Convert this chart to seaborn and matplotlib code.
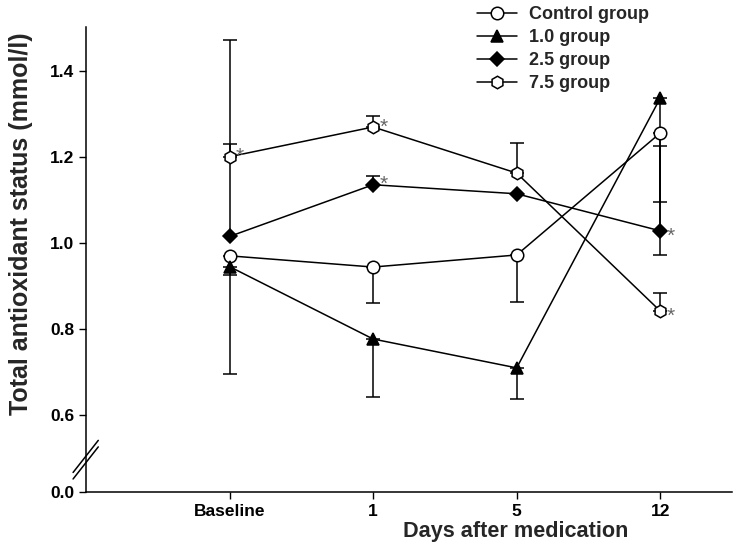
import numpy as np
import matplotlib.pyplot as plt
import seaborn as sns

# -------------------------- 1. 数据 --------------------------
days = ["Baseline", "1", "5", "12"]
groups = ["Control group", "1.0 group", "2.5 group", "7.5 group"]

control = [0.970, 0.944, 0.972, 1.255]
group_1_0 = [0.945, 0.777, 0.710, 1.336]
group_2_5 = [1.015, 1.135, 1.114, 1.028]
group_7_5 = [1.200, 1.269, 1.162, 0.842]

# 误差线（下，上）
control_err_lo = [0.044, 0.083, 0.109, 0.283]
control_err_hi = [0.0, 0.0, 0.0, 0.0]
group_1_0_err_lo = [0.250, 0.134, 0.072, 0.241]
group_1_0_err_hi = [0.0, 0.0, 0.0, 0.0]
group_2_5_err_lo = [0.0, 0.0, 0.0, 0.0]
group_2_5_err_hi = [0.455, 0.020, 0.0, 0.197]
group_7_5_err_lo = [0.0, 0.0, 0.0, 0.0]
group_7_5_err_hi = [0.030, 0.026, 0.070, 0.042]

# 显著性标记 *
control_sig = [False, False, False, False]
group_1_0_sig = [False, False, False, False]
group_2_5_sig = [False, True, False, True]
group_7_5_sig = [True, True, False, True]

# -------------------------- 2. 样式 --------------------------
sns.set_style("ticks")
plt.rcParams['font.family'] = ['Liberation Sans', 'DejaVu Sans']
plt.rcParams['font.weight'] = 'bold'
plt.rcParams['axes.labelweight'] = 'bold'

series = [control, group_1_0, group_2_5, group_7_5]
err_lo = [control_err_lo, group_1_0_err_lo, group_2_5_err_lo, group_7_5_err_lo]
err_hi = [control_err_hi, group_1_0_err_hi, group_2_5_err_hi, group_7_5_err_hi]
sig = [control_sig, group_1_0_sig, group_2_5_sig, group_7_5_sig]
markers = ['o', '^', 'D', 'h']
faces = ['white', 'black', 'black', 'white']
msizes = [9, 9, 7.5, 9]

x = np.arange(len(days))
y_zero = 0.422  # 断轴后 0.0 所在位置

fig = plt.figure(figsize=(7.36, 5.57), dpi=100)
ax = fig.add_axes([86 / 736, 1 - 492 / 557, 646 / 736, 465 / 557])

# -------------------------- 3. 绘图 --------------------------
handles = []
for i, name in enumerate(groups):
    ax.errorbar(x, series[i], yerr=[err_lo[i], err_hi[i]], fmt='none', ecolor='black',
                elinewidth=1.1, capsize=4.8, capthick=1.1, zorder=2)
    sns.lineplot(x=x, y=series[i], ax=ax, color='black', linewidth=1.1, marker=markers[i],
                 markersize=msizes[i], markerfacecolor=faces[i], markeredgecolor='black',
                 markeredgewidth=1.1, label=name, zorder=3, legend=False)
    handles.append(ax.lines[-1])
    for j in range(len(days)):
        if sig[i][j]:
            dy = -4 if j == 3 else 0
            ax.annotate('*', (x[j], series[i][j]), xytext=(4.5, dy), textcoords='offset points',
                        ha='left', va='center', fontsize=15, color='#666666', fontweight='normal')

ax.set_xlim(-1, 3.5)
ax.set_ylim(y_zero, 1.501)
ax.set_xticks(x)
ax.set_xticklabels(days)
ax.set_yticks([y_zero, 0.6, 0.8, 1.0, 1.2, 1.4])
ax.set_yticklabels(['0.0', '0.6', '0.8', '1.0', '1.2', '1.4'])
ax.tick_params(axis='both', direction='out', length=5, width=1, labelsize=12.5, colors='black')
for s in ['left', 'bottom']:
    ax.spines[s].set_linewidth(1.1)
    ax.spines[s].set_color('black')
sns.despine(ax=ax)

ax.set_xlabel('Days after medication', fontsize=15.6)
ax.set_ylabel('Total antioxidant status (mmol/l)', fontsize=18)
ax.xaxis.set_label_coords(0.665, -0.086)
ax.yaxis.set_label_coords(-0.100, 0.576)
ax.xaxis.label.set_va('center')
ax.yaxis.label.set_va('center')

# 断轴标记
for off in [0.0, 0.014]:
    ax.plot([-0.020, 0.019], [0.028 + off, 0.097 + off], transform=ax.transAxes,
            color='black', linewidth=1.1, clip_on=False)

fig.legend(handles=handles, labels=groups, loc='upper left', bbox_to_anchor=(477 / 736, 1 - 6 / 557),
           frameon=False, fontsize=13, handlelength=2.2, handletextpad=0.7,
           labelspacing=0.34, borderpad=0, borderaxespad=0)

plt.savefig('out.png', dpi=100)
plt.close()
